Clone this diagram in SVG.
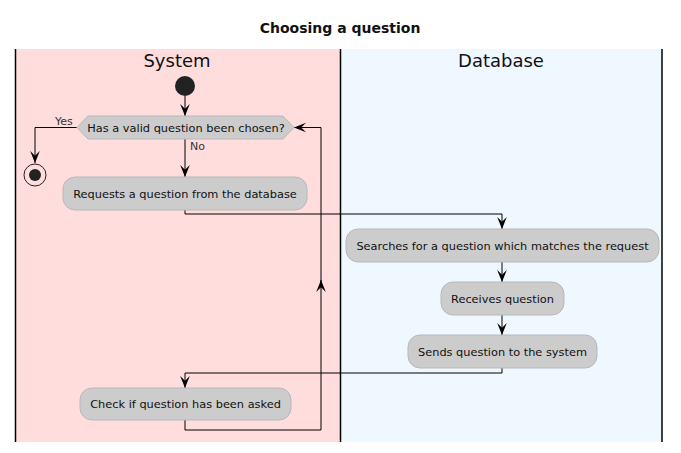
<svg xmlns="http://www.w3.org/2000/svg" width="681" height="453" viewBox="0 0 681 453">
<style>
text{font-family:"DejaVu Sans","Liberation Sans",sans-serif;fill:#111}
.act{fill:#CCCCCC;stroke:#B8B8B8;stroke-width:1}
.t{font-size:11.35px;text-anchor:middle}
.lane{font-size:18px;text-anchor:middle}
.lbl{font-size:11px;fill:#333}
.c{fill:none;stroke:#000;stroke-width:1}
.ar{marker-end:url(#ah)}
</style>
<defs>
<marker id="ah" markerUnits="userSpaceOnUse" markerWidth="12" markerHeight="12" refX="10" refY="5" orient="auto" viewBox="0 0 10 10">
<path d="M0,1 L10,5 L0,9 L4,5 Z" fill="#000"/>
</marker>
</defs>
<rect width="681" height="453" fill="#fff"/>
<text x="340" y="33" style="font-size:14px;font-weight:bold;text-anchor:middle">Choosing a question</text>
<g id="lanes">
<rect x="15" y="49" width="325" height="393" fill="#FFDDDD"/>
<rect x="340" y="49" width="322" height="393" fill="#F0F8FF"/>
<line x1="15.5" y1="49" x2="15.5" y2="442" stroke="#000" stroke-width="1.5"/>
<line x1="340.5" y1="49" x2="340.5" y2="442" stroke="#000" stroke-width="1.5"/>
<line x1="662" y1="49" x2="662" y2="442" stroke="#000" stroke-width="1.5"/>
<text x="177" y="67" class="lane">System</text>
<text x="501" y="67" class="lane">Database</text>
</g>
<g id="connectors">
<path class="c ar" d="M185,96 V116"/>
<path class="c ar" d="M77,127.5 H35 V163"/>
<path class="c ar" d="M185,139 V177"/>
<path class="c ar" d="M185,210 V214 H502 V229"/>
<path class="c ar" d="M502,262 V282"/>
<path class="c ar" d="M502,315 V335"/>
<path class="c ar" d="M502,368 V373 H185 V388"/>
<path class="c ar" d="M185,420 V430 H321 V280"/>
<path class="c ar" d="M321,282 V127.5 H294"/>
<text x="55" y="125" class="lbl">Yes</text>
<text x="190" y="150" class="lbl">No</text>
</g>
<g id="start"><circle cx="185" cy="86" r="10" fill="#222"/></g>
<g id="end"><circle cx="35" cy="175" r="11" fill="none" stroke="#222" stroke-width="1"/><circle cx="35" cy="175" r="6" fill="#222"/></g>
<g id="decision">
<polygon class="act" points="77,127.5 88,116 283,116 294,127.5 283,139 88,139"/>
<text x="186" y="131.5" class="t">Has a valid question been chosen?</text>
</g>
<g id="request">
<rect class="act" x="63" y="177" width="244" height="33" rx="12"/>
<text x="185" y="197.5" class="t">Requests a question from the database</text>
</g>
<g id="search">
<rect class="act" x="346" y="229" width="313" height="33" rx="12"/>
<text x="502.5" y="249.5" class="t">Searches for a question which matches the request</text>
</g>
<g id="receive">
<rect class="act" x="441" y="282" width="123" height="33" rx="12"/>
<text x="502.5" y="302.5" class="t">Receives question</text>
</g>
<g id="send">
<rect class="act" x="408" y="335" width="189" height="33" rx="12"/>
<text x="502.5" y="355.5" class="t">Sends question to the system</text>
</g>
<g id="check">
<rect class="act" x="80" y="388" width="211" height="32" rx="12"/>
<text x="185.5" y="408" class="t">Check if question has been asked</text>
</g>
</svg>
